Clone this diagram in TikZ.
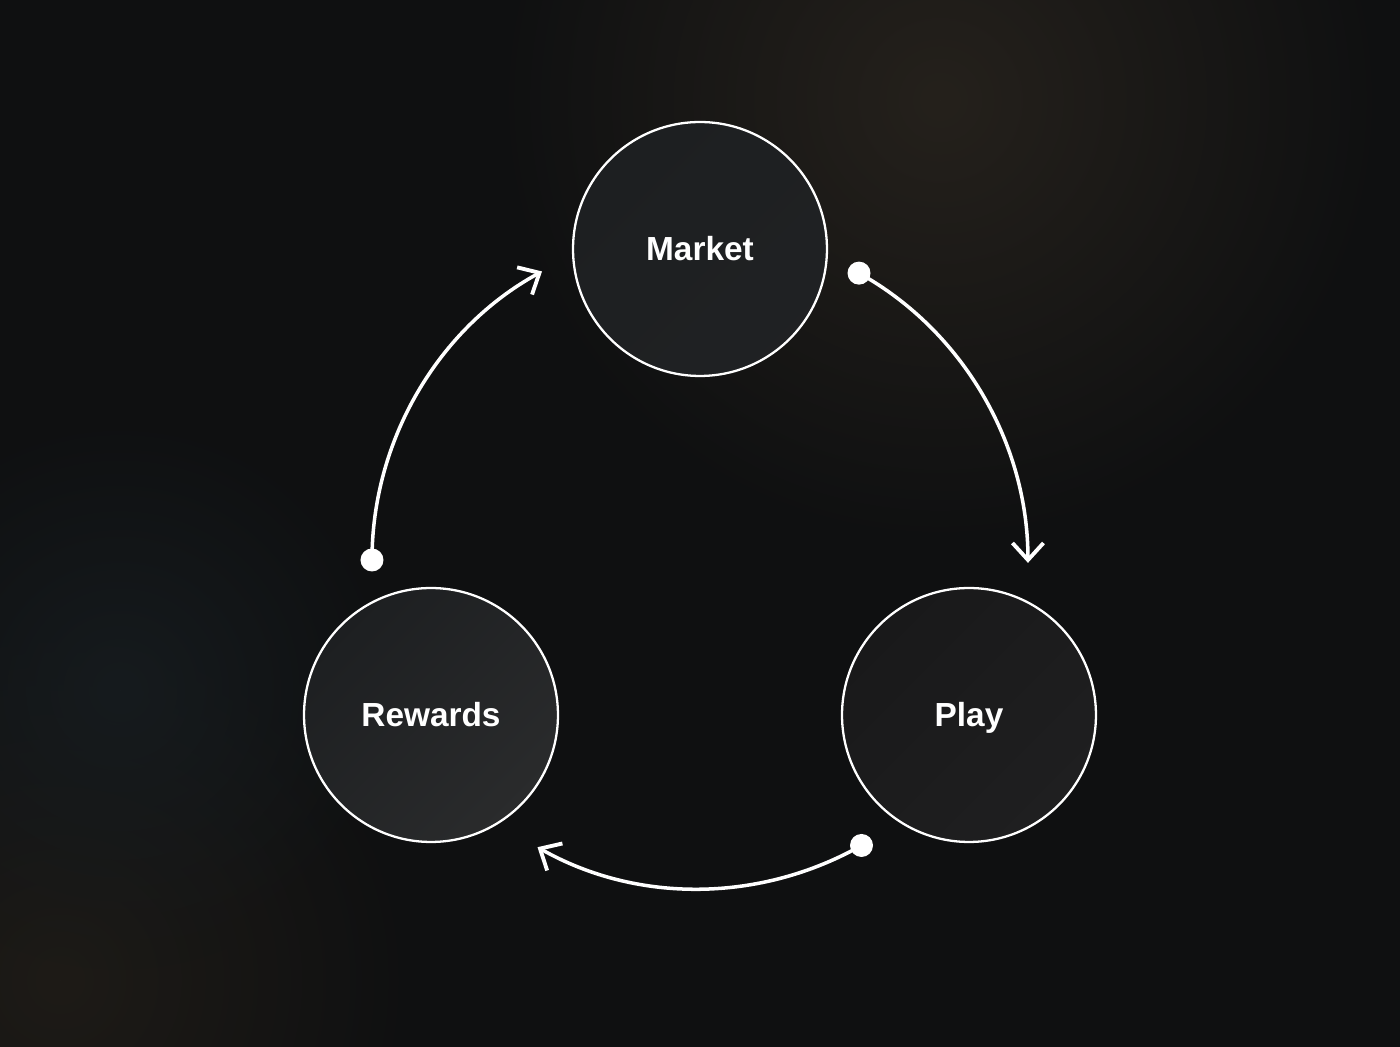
\documentclass[tikz,border=0pt]{standalone}
\usepackage{fontspec}
\setmainfont{Liberation Sans}
\usetikzlibrary{arrows.meta,fadings}

\definecolor{bgdark}{HTML}{0F1011}
\definecolor{glowwarm}{HTML}{25211C}
\definecolor{glowlow}{HTML}{1E1B17}
\definecolor{glowcool}{HTML}{161B1E}
\definecolor{discdark}{HTML}{1D1F21}
\definecolor{disclight}{HTML}{2A2B2C}
\definecolor{playdark}{HTML}{19191A}
\definecolor{playlight}{HTML}{1F1F20}
\tikzfading[name=softglow, inner color=transparent!0, outer color=transparent!100]

\begin{document}
\begin{tikzpicture}[x=0.02cm, y=0.02cm,
    stage/.style={circle, draw=white, line width=1.3pt, minimum size=5.08cm, text=white,
      text height=13.6pt, text depth=0pt, font=\fontsize{19}{23}\selectfont\bfseries},
    link/.style={white, line width=2pt, -{Straight Barb[length=3.4mm, width=6.2mm, line width=2.2pt]}},
    glow/.style={path fading=softglow}]
    \useasboundingbox (-700,-487) rectangle (700,560);
    % background
    \begin{scope}
      \clip (-700,-487) rectangle (700,560);
      \fill[bgdark] (-700,-487) rectangle (700,560);
      \fill[glowwarm, glow] (240,460) circle (450);
      \fill[glowlow, glow] (-640,-420) circle (360);
      \fill[glowcool, glow] (-580,-130) circle (280);
    \end{scope}

    \node[stage, top color=discdark, bottom color=discdark!80!disclight, shading angle=45] (market) at (0,311) {Market};
    \node[stage, top color=playdark, bottom color=playlight, shading angle=45] (play) at (269,-155) {Play};
    \node[stage, top color=discdark, bottom color=disclight, shading angle=45] (rewards) at (-269,-155) {Rewards};

    % ends of the cycle arcs
    \coordinate (mktout) at (61:328);
    \coordinate (playin) at (-0.5:328);
    \coordinate (playout) at (-60.5:328);
    \coordinate (rwdin) at (-119.5:330);
    \coordinate (rwdout) at (180:328);
    \coordinate (mktin) at (118.7:329);

    \draw[link] (mktout) to[out=-29, in=90, looseness=0.91] (playin);
    \draw[link] (playout) to[out=-150.5, in=-29.5, looseness=0.91] (rwdin);
    \draw[link] (rwdout) to[out=90, in=208.7, looseness=0.91] (mktin);
    \fill[white] (mktout) circle (11.5);
    \fill[white] (playout) circle (11.5);
    \fill[white] (rwdout) circle (11.5);
\end{tikzpicture}
\end{document}
